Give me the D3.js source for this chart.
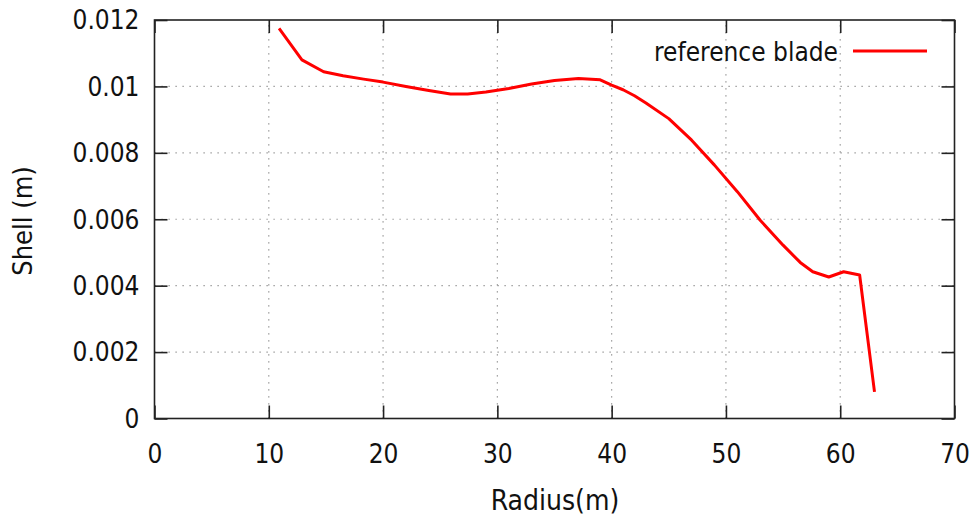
<!DOCTYPE html>
<html><head><meta charset="utf-8">
<script src="https://cdn.jsdelivr.net/npm/d3@7"></script>
<style>
body{margin:0;background:#fff;}
text{font-family:"DejaVu Sans Condensed","DejaVu Sans",sans-serif;font-stretch:condensed;fill:#111;}
</style></head><body>
<svg id="c" width="977" height="520"></svg>
<script>
const radius = [10.9,12.9,14.8,16.5,18.3,20.0,22.0,24.0,25.9,27.4,29.0,31.0,33.0,35.0,37.1,39.0,40.0,41.0,42.0,43.0,45.0,47.0,49.0,51.0,53.0,55.0,56.5,57.6,59.0,60.3,61.7,63.0];
const shell  = [0.01175,0.0108,0.01044,0.01032,0.01022,0.01013,0.01,0.00988,0.00977,0.00977,0.00983,0.00994,0.01007,0.01018,0.01024,0.0102,0.01004,0.0099,0.00972,0.0095,0.00903,0.00838,0.00763,0.00683,0.00597,0.00522,0.0047,0.00442,0.00426,0.00442,0.00432,0.0008];
const xTicks = [0,10,20,30,40,50,60,70];
const yTicks = [0,0.002,0.004,0.006,0.008,0.01,0.012];
const yTickLabels = ["0","0.002","0.004","0.006","0.008","0.01","0.012"];
const seriesName = "reference blade";

const L=154.5, R=954.5, T=20, B=418.5;
const svg=d3.select("#c");
const x=d3.scaleLinear().domain([0,70]).range([L,R]);
const y=d3.scaleLinear().domain([0,0.012]).range([B,T]);

// grid
const g=svg.append("g");
g.selectAll("line.vx").data(xTicks.filter(d=>d>0&&d<70)).join("line")
 .attr("x1",d=>x(d)).attr("x2",d=>x(d)).attr("y1",B).attr("y2",T)
 .attr("stroke","#888").attr("stroke-width",1.2).attr("stroke-dasharray","1.2,5.8");
g.selectAll("line.hy").data(yTicks.filter(d=>d>0&&d<0.012)).join("line")
 .attr("x1",L).attr("x2",R).attr("y1",d=>y(d)).attr("y2",d=>y(d))
 .attr("stroke","#888").attr("stroke-width",1.2).attr("stroke-dasharray","1.2,5.8");

// axes with inward ticks (mirrored)
const tl=13;
const fmtY=d=>yTickLabels[yTicks.indexOf(d)];
const ax=svg.append("g").attr("transform",`translate(0,${B})`)
 .call(d3.axisBottom(x).tickValues(xTicks).tickSize(-tl).tickPadding(26).tickFormat(d3.format("d")));
const axT=svg.append("g").attr("transform",`translate(0,${T})`)
 .call(d3.axisTop(x).tickValues(xTicks).tickSize(-tl).tickFormat(""));
const ay=svg.append("g").attr("transform",`translate(${L},0)`)
 .call(d3.axisLeft(y).tickValues(yTicks).tickSize(-tl).tickPadding(15).tickFormat(fmtY));
const ayR=svg.append("g").attr("transform",`translate(${R},0)`)
 .call(d3.axisRight(y).tickValues(yTicks).tickSize(-tl).tickFormat(""));
[ax,axT,ay,ayR].forEach(a=>{a.select(".domain").remove();a.selectAll(".tick line").attr("stroke","#222").attr("stroke-width",1.6);});
ax.selectAll("text").attr("font-size",26).attr("fill","#111").attr("dy","0.71em");
ay.selectAll("text").attr("font-size",26).attr("fill","#111").attr("dy","0.34em");

// frame
svg.append("rect").attr("x",L).attr("y",T).attr("width",R-L).attr("height",B-T)
 .attr("fill","none").attr("stroke","#222").attr("stroke-width",1.6);

// line
const line=d3.line().x((d,i)=>x(radius[i])).y((d,i)=>y(shell[i]));
svg.append("path").attr("d",line(shell)).attr("fill","none").attr("stroke","#ff0000")
 .attr("stroke-width",3).attr("stroke-linejoin","round");

// legend
svg.append("text").attr("x",838).attr("y",61).attr("text-anchor","end").attr("font-size",26).text(seriesName);
svg.append("line").attr("x1",853).attr("x2",927).attr("y1",51).attr("y2",51).attr("stroke","#ff0000").attr("stroke-width",3);

// axis labels
svg.append("text").attr("x",555).attr("y",510).attr("text-anchor","middle").attr("font-size",28).text("Radius(m)");
svg.append("text").attr("transform","translate(32,221) rotate(-90)").attr("text-anchor","middle").attr("font-size",27).text("Shell (m)");
</script></body></html>
